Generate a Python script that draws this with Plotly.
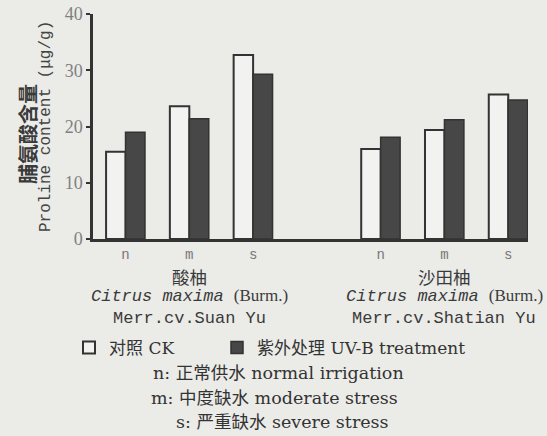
import plotly.graph_objects as go

# ---- data ----
cultivars = ["酸柚", "沙田柚"]
levels = ["n", "m", "s"]
ck_values = [15.5, 23.6, 32.7, 16.0, 19.4, 25.7]      # 对照 CK
uv_values = [19.0, 21.4, 29.3, 18.1, 21.2, 24.7]      # 紫外处理 UV-B treatment
series_names = ["对照 CK", "紫外处理 UV-B treatment"]
y_ticks = [0, 10, 20, 30, 40]
species_line = "<i>Citrus maxima</i> <span style='font-family:Liberation Serif'>(Burm.)</span>"
cultivar_latin = ["Merr.cv.Suan Yu", "Merr.cv.Shatian Yu"]
footnotes = ["n: 正常供水 normal irrigation",
             "m: 中度缺水 moderate stress",
             "s: 严重缺水 severe stress"]

# positions: each cultivar group takes len(levels)+1 slots (one empty spacer)
positions = [g * (len(levels) + 1) + i for g in range(len(cultivars)) for i in range(len(levels))]
tick_text = levels * len(cultivars)

W, H = 547, 436
ML, MR, MT, MB = 93, 19, 14, 197
ph = H - MT - MB

def py(px):  # pixel y -> paper y
    return (H - MB - px) / ph

def pxx(px):  # pixel x -> paper x
    return (px - ML) / (W - ML - MR)

INK = "#333333"
BG = "#ebebe8"
SERIF = "DejaVu Serif, Noto Sans CJK SC"
MONO = "Liberation Mono, Noto Sans CJK SC"

fig = go.Figure()
fig.add_trace(go.Bar(x=positions, y=ck_values, name=series_names[0], legend="legend",
                     marker=dict(color="#f2f2f0", line=dict(color=INK, width=2))))
fig.add_trace(go.Bar(x=positions, y=uv_values, name=series_names[1], legend="legend2",
                     marker=dict(color="#474747", line=dict(color=INK, width=1.5))))

def ann(text, x, y, font, xref="paper", angle=0):
    return dict(text=text, x=x, y=y, xref=xref, yref="paper", xanchor="center", yanchor="middle",
                textangle=angle, showarrow=False, font=font)

annotations = []
# y-axis titles
annotations.append(ann("<b>脯氨酸含量</b>", pxx(27), py(134),
                       dict(family="Noto Sans CJK SC", size=20, color="#3a3a3a"), angle=-90))
annotations.append(ann("Proline content (μg/g)", pxx(46), py(127),
                       dict(family=MONO, size=16, color="#444444"), angle=-90))
# cultivar labels
for g, (cn, lat) in enumerate(zip(cultivars, cultivar_latin)):
    cx = g * (len(levels) + 1) + (len(levels) - 1) / 2
    annotations.append(ann(cn, cx, py(276), dict(family="Noto Sans CJK SC", size=17.5, color="#3a3a3a"), xref="x"))
    annotations.append(ann(species_line, cx, py(296), dict(family=MONO, size=17, color="#3a3a3a"), xref="x"))
    annotations.append(ann(lat, cx, py(318), dict(family=MONO, size=17, color="#3a3a3a"), xref="x"))
# footnotes
foot_y = [373, 398, 422]
foot_x = [278, 274, 282]
for t, yy, xx in zip(footnotes, foot_y, foot_x):
    annotations.append(ann(t, pxx(xx), py(yy), dict(family=SERIF, size=17.5, color="#333333")))

legend_common = dict(orientation="h", xanchor="left", yanchor="middle", y=py(348),
                     font=dict(family=SERIF, size=17, color="#333333"), bgcolor="rgba(0,0,0,0)")

fig.update_layout(
    width=W, height=H,
    margin=dict(l=ML, r=MR, t=MT, b=MB, autoexpand=False),
    paper_bgcolor=BG, plot_bgcolor=BG,
    barmode="group", bargap=0.39, bargroupgap=0,
    showlegend=True,
    legend=dict(x=pxx(69), **legend_common),
    legend2=dict(x=pxx(217), **legend_common),
    xaxis=dict(range=[-0.51, 6.31], tickvals=positions, ticktext=tick_text,
               showline=True, linecolor=INK, linewidth=2.5, ticks="", showgrid=False, zeroline=False,
               tickfont=dict(family=MONO, size=14, color="#777777")),
    yaxis=dict(range=[0, 40], tickvals=y_ticks, showline=True, linecolor=INK, linewidth=2.5,
               ticks="outside", ticklen=4, tickwidth=2, tickcolor=INK, showgrid=False, zeroline=False,
               tickfont=dict(family="Liberation Serif", size=18, color="#808080")),
    annotations=annotations,
)

fig.write_html("out.html", config={"displayModeBar": False},
               post_script="document.body.style.margin='0';document.body.style.background='" + BG + "';")
